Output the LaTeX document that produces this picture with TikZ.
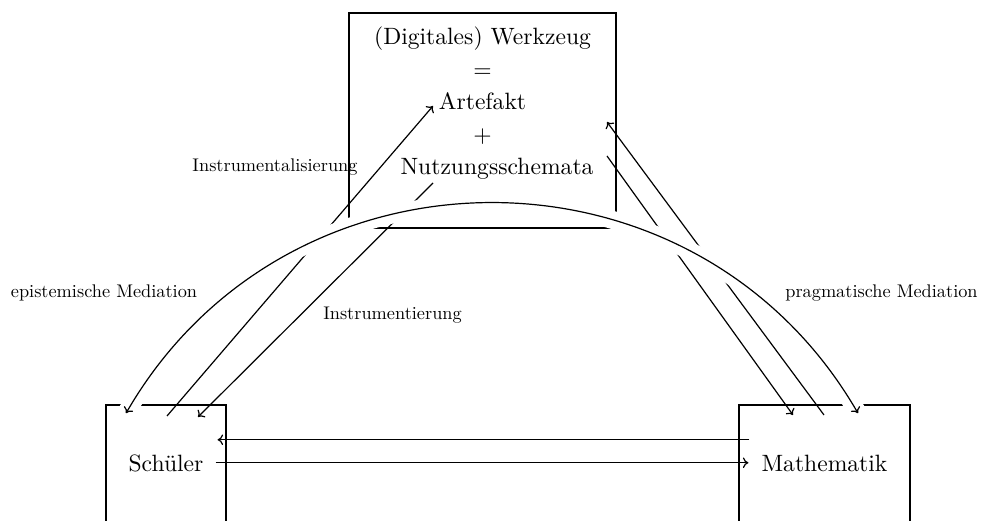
\documentclass[tikz,border=0pt]{standalone}
\usepackage{fontspec}
\usepackage{tikz}
\usetikzlibrary{calc,arrows.meta,positioning}
\newfontfamily\lmten{lmroman10-regular.otf}
\newcommand{\bigfont}{\fontsize{23.6}{32.5}\lmten}
\newcommand{\lblfont}{\fontsize{18.3}{22}\lmten}

\begin{document}
\begin{tikzpicture}[
    x=1pt, y=1pt, line width=1.2pt,
    pole/.style={draw, minimum height=117.5pt, inner sep=0pt, font=\bigfont},
    toolbox/.style={draw, minimum width=267pt, minimum height=215pt},
    toolline/.style={anchor=base, inner sep=0pt, font=\bigfont},
    lbl/.style={anchor=base, inner sep=0pt, font=\lblfont},
    arr/.style={-{To[length=5.5pt, width=10.5pt]}},
    mediation/.style={{To[length=5.5pt, width=10.5pt]}-{To[length=5.5pt, width=10.5pt]},
      preaction={draw=white, line width=18pt, arrows=-}},
  ]
  \useasboundingbox (0,0) rectangle (982,521);
  \clip (0,0) rectangle (982,521);

  % tool box with its contents
  \node[toolbox] (tool) at (482.5,400.5) {};
  \node[toolline] (title) at (482.5,476) {(Digitales) Werkzeug};
  \node[toolline] (eq) at ($(title.base)+(0,-32.5)$) {=};
  \node[toolline] (artefakt) at ($(eq.base)+(0,-32.5)$) {Artefakt};
  \node[toolline] (plus) at ($(artefakt.base)+(0,-32.5)$) {+};
  \node[toolline] (schemata) at ($(plus.base)+(14.5,-32.5)$) {Nutzungsschemata};

  % the two poles
  \node[pole, minimum width=120pt] (schueler) at (166,57.25) {Schüler};
  \node[pole, minimum width=171pt] (mathe) at (824.5,57.25) {Mathematik};

  % labels
  \node[lbl] (instrumentalisierung) at (275,349) {Instrumentalisierung};
  \node[lbl] (instrumentierung) at (392.5,201) {Instrumentierung};
  \node[lbl] (epistemisch) at (104,223) {epistemische Mediation};
  \node[lbl] (pragmatisch) at (881.5,223) {pragmatische Mediation};

  % end points
  \coordinate (alFrom) at (167,105);
  \coordinate (alTo) at (433,415);
  \coordinate (ieFrom) at (433,338);
  \coordinate (ieTo) at (198,104);
  \coordinate (pmFrom) at (607,365);
  \coordinate (pmTo) at (793,106);
  \coordinate (pbFrom) at (824,106);
  \coordinate (pbTo) at (607,399);
  \coordinate (epiEnd) at (126,107.75);
  \coordinate (pragEnd) at (858,107.75);

  \draw[arr] (alFrom) -- (alTo);
  \draw[arr] (ieFrom) -- (ieTo);
  \draw[arr] (pmFrom) -- (pmTo);
  \draw[arr] (pbFrom) -- (pbTo);
  \draw[arr] ($(mathe.west)+(11,24)$) -- ($(schueler.east)+(-9,24)$);
  \draw[arr] ($(schueler.east)+(-11,1)$) -- ($(mathe.west)+(10,1)$);

  % mediation arc, drawn last so it cuts through the rest
  \draw[mediation] (epiEnd) to[bend left=60, looseness=1.135] (pragEnd);
\end{tikzpicture}
\end{document}
